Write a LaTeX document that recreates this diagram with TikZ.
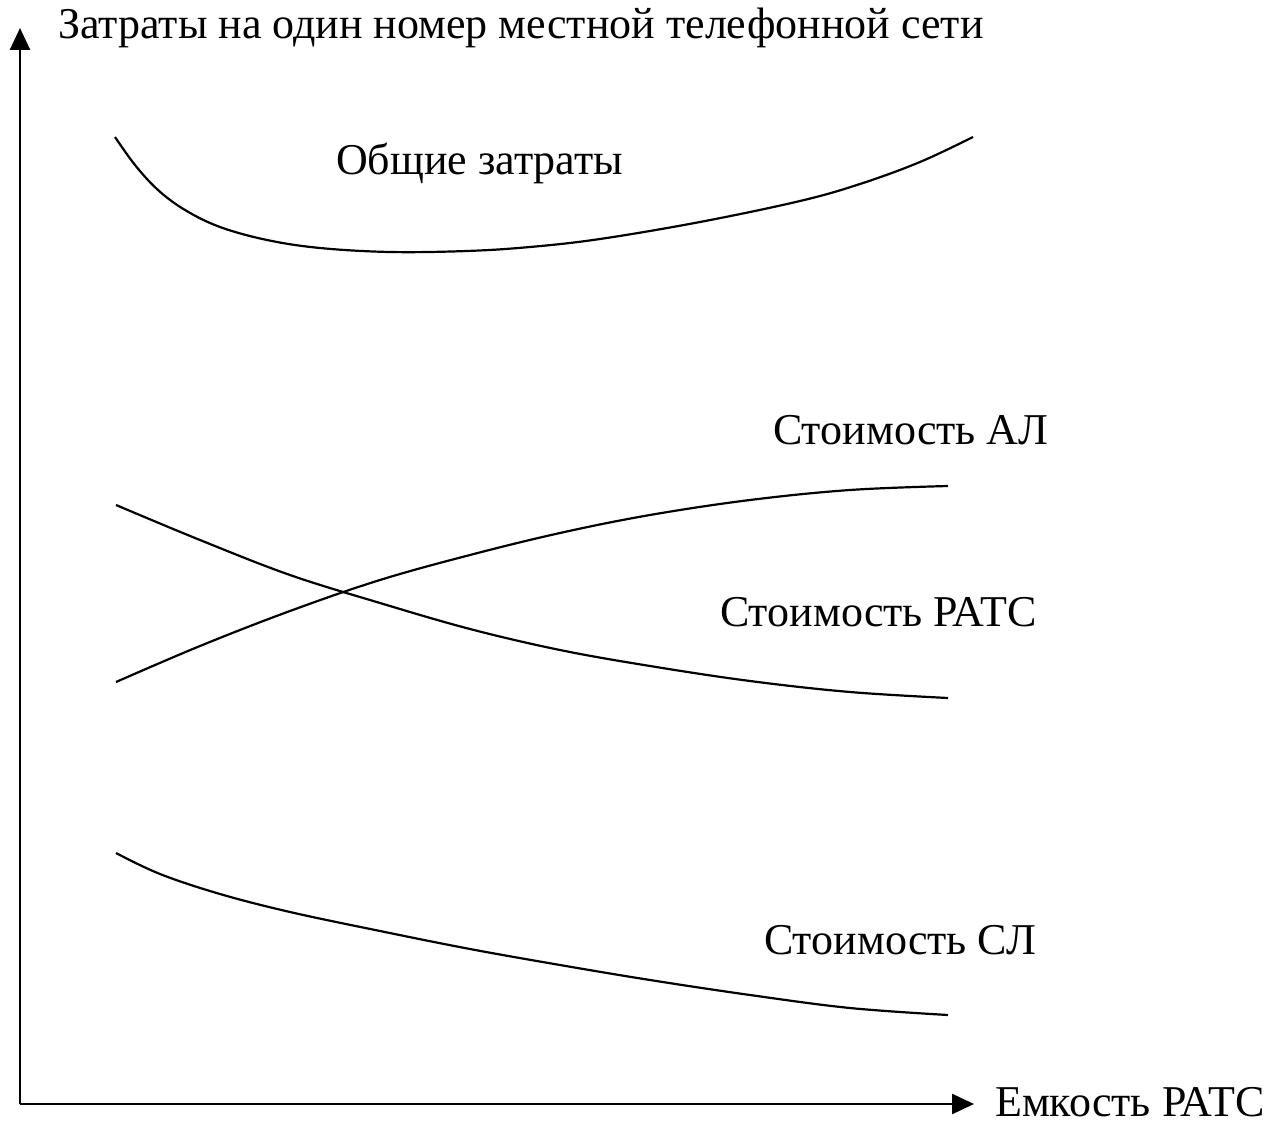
\documentclass[tikz,border=0pt]{standalone}
\usepackage{fontspec}
\setmainfont{Liberation Serif}
\usetikzlibrary{arrows.meta}
\begin{document}
\begin{tikzpicture}[x=1pt,y=-1pt,
  axis/.style={line width=2.6pt,-{Triangle[length=22pt,width=20pt]}},
  curve/.style={line width=2.2pt,smooth,tension=0.6},
  lbl/.style={anchor=base west,inner sep=0pt,font=\fontsize{44}{52}\selectfont}]
\useasboundingbox (0,0) rectangle (1278,1123);
\coordinate (O) at (20,1104);
\coordinate (Ytip) at (20,28);
\coordinate (Xtip) at (974,1104);
\draw[axis] (O) -- (Ytip);
\draw[axis] (O) -- (Xtip);
\node[lbl] (ylab) at (58,39) {Затраты на один номер местной телефонной сети};
\node[lbl] (xlab) at (995,1116) {Емкость РАТС};
\node[lbl] (ltot) at (336,175) {Общие затраты};
\node[lbl] (lal) at (773,444) {Стоимость АЛ};
\node[lbl] (lrats) at (720,626) {Стоимость РАТС};
\node[lbl] (lsl) at (764,954) {Стоимость СЛ};
\draw[curve] plot coordinates {(115,137) (135,165) (158,190) (185,210) (220,227) (267,240) (320,248) (390,252) (467,251) (530,247) (600,239) (700,222) (800,201) (860,184) (920,162) (973,137)};
\draw[curve] plot coordinates {(116,682) (200,646) (290,611) (380,580) (470,555) (560,533) (650,515) (750,500) (850,490) (948,486)};
\draw[curve] plot coordinates {(116,505) (200,540) (290,575) (380,603) (470,629) (560,650) (650,666) (750,681) (850,692) (948,698)};
\draw[curve] plot coordinates {(116,853) (160,874) (220,894) (290,912) (380,931) (470,949) (560,965) (650,980) (750,995) (850,1008) (948,1015)};
\end{tikzpicture}
\end{document}
